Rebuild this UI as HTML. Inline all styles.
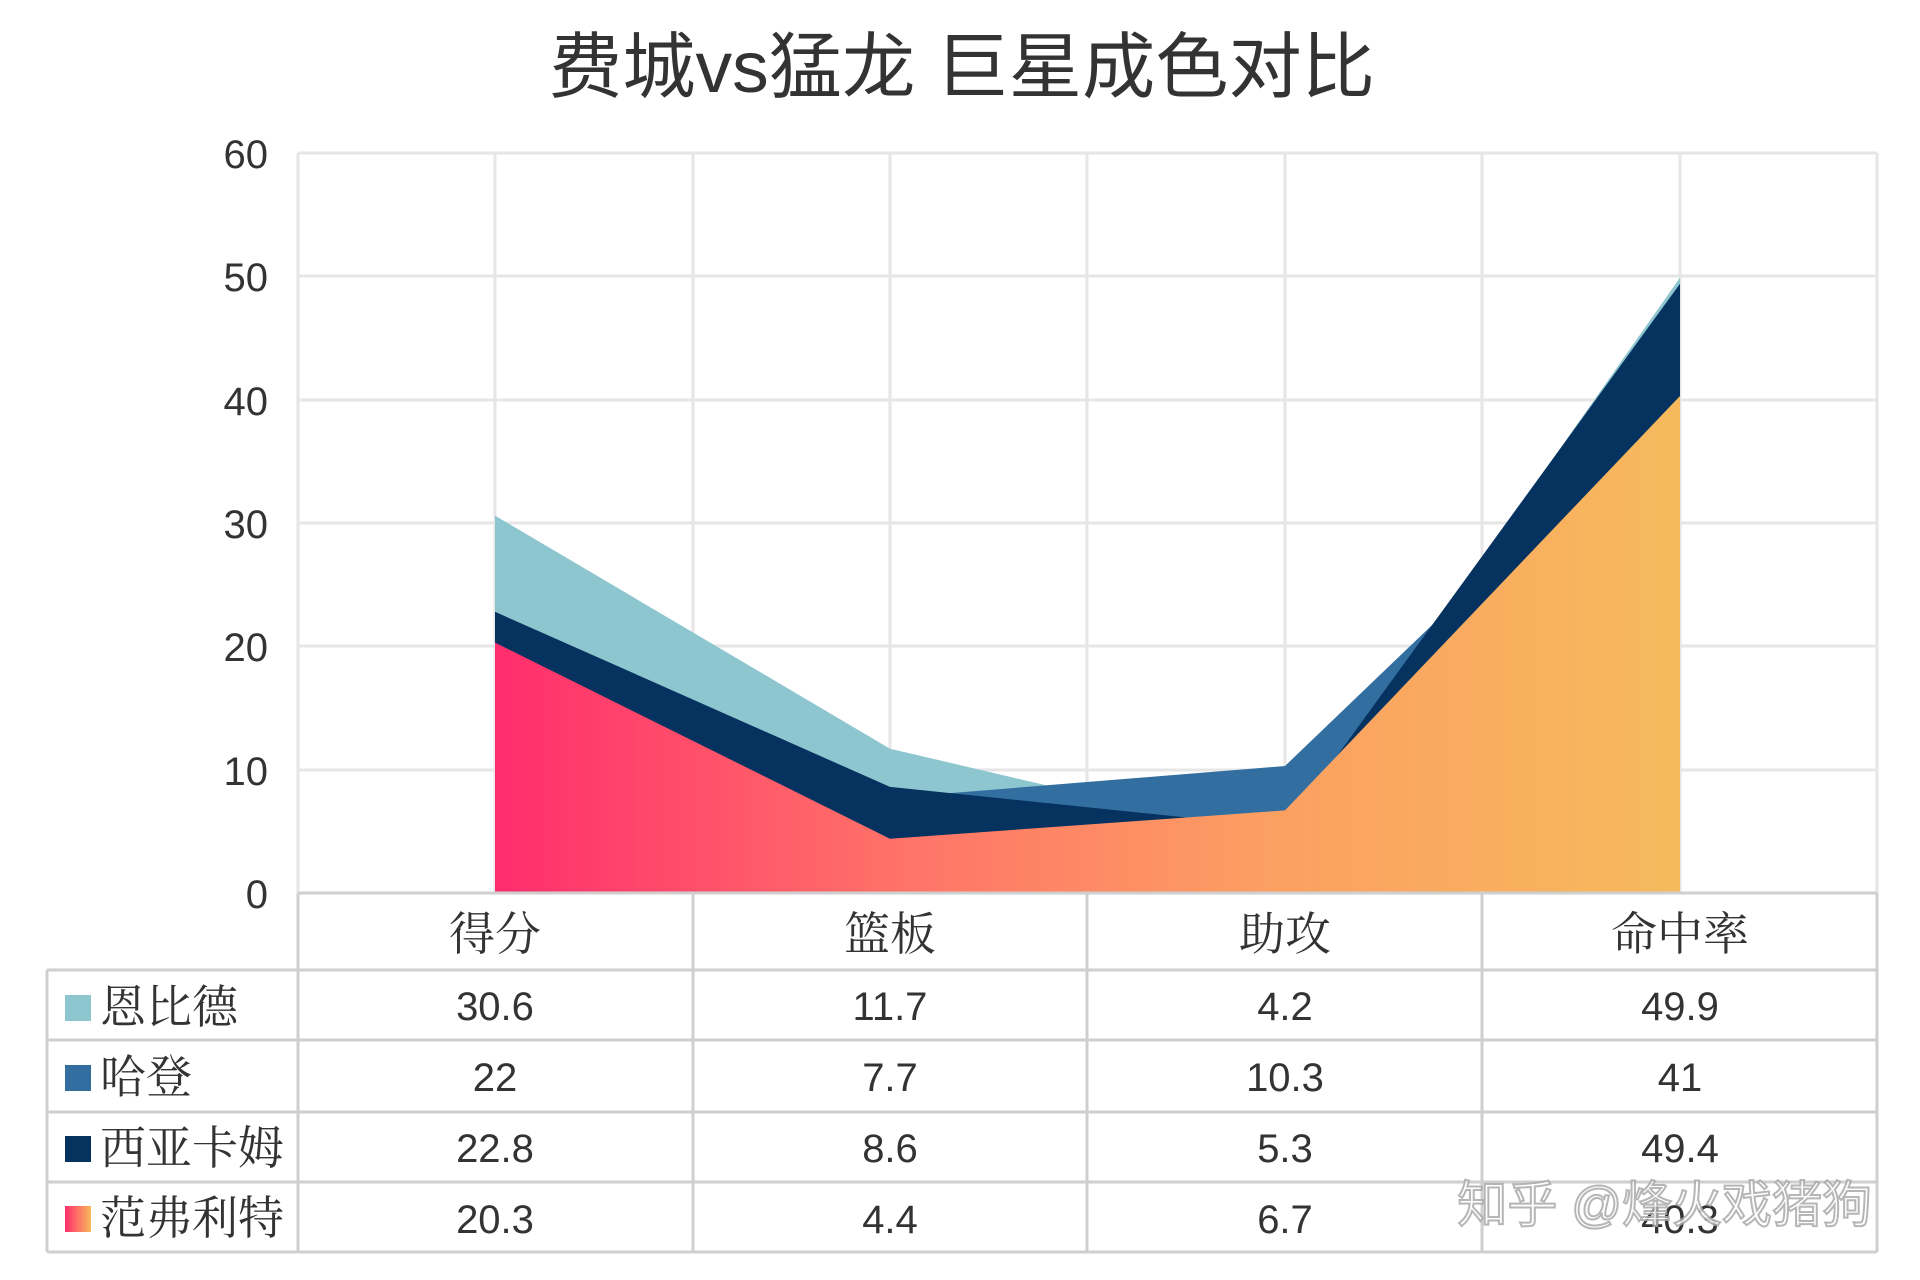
<!DOCTYPE html>
<html><head><meta charset="utf-8"><style>
html,body{margin:0;padding:0;background:#fff;}
svg{display:block;}
.ax{font-family:"Liberation Sans","Noto Sans CJK SC",sans-serif;font-size:40px;fill:#333;}
.cj{font-family:"Liberation Serif","Noto Serif CJK SC",serif;font-size:46px;fill:#333;}
</style></head><body>
<svg width="1920" height="1280" viewBox="0 0 1920 1280" xmlns="http://www.w3.org/2000/svg">
<defs>
<linearGradient id="g" x1="495" y1="0" x2="1680" y2="0" gradientUnits="userSpaceOnUse">
<stop offset="0" stop-color="#ff2d6d"/><stop offset="0.35" stop-color="#ff7468"/><stop offset="0.65" stop-color="#fc9f62"/><stop offset="1" stop-color="#f6ba5c"/>
</linearGradient>
<linearGradient id="lg" x1="0" y1="0" x2="1" y2="0"><stop offset="0" stop-color="#ff2d6d"/><stop offset="1" stop-color="#f8b95c"/></linearGradient>
</defs>
<text x="962" y="92" text-anchor="middle" font-family="Liberation Sans,Noto Sans CJK SC,sans-serif" font-size="72" fill="#333" textLength="826" lengthAdjust="spacingAndGlyphs">费城vs猛龙 巨星成色对比</text>
<g stroke="#e6e6e6" stroke-width="3">
<line x1="298" y1="153" x2="1877" y2="153"/><line x1="298" y1="276" x2="1877" y2="276"/><line x1="298" y1="400" x2="1877" y2="400"/><line x1="298" y1="523" x2="1877" y2="523"/><line x1="298" y1="646" x2="1877" y2="646"/><line x1="298" y1="770" x2="1877" y2="770"/>
<line x1="298" y1="153" x2="298" y2="893"/><line x1="495" y1="153" x2="495" y2="893"/><line x1="693" y1="153" x2="693" y2="893"/><line x1="890" y1="153" x2="890" y2="893"/><line x1="1087" y1="153" x2="1087" y2="893"/><line x1="1285" y1="153" x2="1285" y2="893"/><line x1="1482" y1="153" x2="1482" y2="893"/><line x1="1680" y1="153" x2="1680" y2="893"/><line x1="1877" y1="153" x2="1877" y2="893"/>
</g>
<polygon fill="#8ec6d0" points="495,893 495,515.6 890,748.7 1285,841.2 1680,277.6 1680,893"/>
<polygon fill="#336ea0" points="495,893 495,621.7 890,798 1285,766 1680,387.3 1680,893"/>
<polygon fill="#05325f" points="495,893 495,611.8 890,786.9 1285,827.6 1680,283.7 1680,893"/>
<polygon fill="url(#g)" points="495,893 495,642.6 890,838.7 1285,810.4 1680,396 1680,893"/>
<g class="ax" text-anchor="end">
<text x="268" y="168">60</text><text x="268" y="291">50</text><text x="268" y="415">40</text><text x="268" y="538">30</text><text x="268" y="661">20</text><text x="268" y="785">10</text><text x="268" y="908">0</text>
</g>
<g stroke="#cfcfcf" stroke-width="3" fill="none">
<line x1="298" y1="893" x2="1877" y2="893"/>
<line x1="47" y1="970" x2="1877" y2="970"/><line x1="47" y1="1040" x2="1877" y2="1040"/><line x1="47" y1="1112" x2="1877" y2="1112"/><line x1="47" y1="1182" x2="1877" y2="1182"/><line x1="47" y1="1252" x2="1877" y2="1252"/>
<line x1="47" y1="970" x2="47" y2="1252"/><line x1="298" y1="893" x2="298" y2="1252"/><line x1="693" y1="893" x2="693" y2="1252"/><line x1="1087" y1="893" x2="1087" y2="1252"/><line x1="1482" y1="893" x2="1482" y2="1252"/><line x1="1877" y1="893" x2="1877" y2="1252"/>
</g>
<g class="cj" text-anchor="middle">
<text x="495" y="950">得分</text><text x="890" y="950">篮板</text><text x="1285" y="950">助攻</text><text x="1680" y="950">命中率</text>
</g>
<rect x="65" y="995" width="26" height="26" fill="#8ec6d0"/>
<rect x="65" y="1065" width="26" height="26" fill="#336ea0"/>
<rect x="65" y="1136" width="26" height="26" fill="#05325f"/>
<rect x="65" y="1206" width="26" height="26" fill="url(#lg)"/>
<g class="cj">
<text x="100" y="1023">恩比德</text><text x="100" y="1093">哈登</text><text x="100" y="1164">西亚卡姆</text><text x="100" y="1234">范弗利特</text>
</g>
<g class="ax" text-anchor="middle">
<text x="495" y="1020">30.6</text><text x="890" y="1020">11.7</text><text x="1285" y="1020">4.2</text><text x="1680" y="1020">49.9</text>
<text x="495" y="1091">22</text><text x="890" y="1091">7.7</text><text x="1285" y="1091">10.3</text><text x="1680" y="1091">41</text>
<text x="495" y="1162">22.8</text><text x="890" y="1162">8.6</text><text x="1285" y="1162">5.3</text><text x="1680" y="1162">49.4</text>
<text x="495" y="1233">20.3</text><text x="890" y="1233">4.4</text><text x="1285" y="1233">6.7</text><text x="1680" y="1233">40.3</text>
</g>
<text x="1872" y="1222" text-anchor="end" font-family="Liberation Sans,Noto Sans CJK SC,sans-serif" font-size="50" fill="#fff" stroke="#aaa" stroke-width="2" opacity="0.85">知乎 @烽火戏猪狗</text>
</svg>
</body></html>
